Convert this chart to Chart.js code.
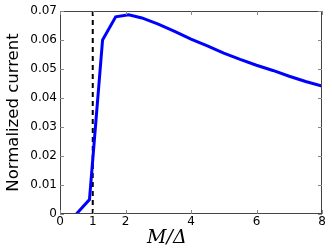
<!DOCTYPE html>
<html>
<head>
<meta charset="utf-8">
<script src="https://cdn.jsdelivr.net/npm/chart.js@4/dist/chart.umd.min.js"></script>
<style>
  html, body { margin: 0; padding: 0; background: #fff; }
  #wrap { width: 332px; height: 249px; }
</style>
</head>
<body>
<div id="wrap"><canvas id="chartCanvas"></canvas></div>
<script>
// values
const ratio = [0.5, 0.9, 1.3, 1.7, 2.1, 2.5, 3, 3.5, 4, 4.5, 5, 5.5, 6, 6.5, 7, 7.5, 8];
const current = [0, 0.005, 0.06, 0.068, 0.0687, 0.0676, 0.0655, 0.063, 0.0603, 0.058, 0.0555, 0.0533, 0.0513, 0.0495, 0.0475, 0.0457, 0.0441];
const markerX = [1, 1];
const markerY = [0, 0.07];
const xTicks = [0, 1, 2, 4, 6, 8];
const yTicks = [0, 0.01, 0.02, 0.03, 0.04, 0.05, 0.06, 0.07];

document.addEventListener('DOMContentLoaded', () => {
    const ctx = document.getElementById('chartCanvas').getContext('2d');

    // matplotlib-like frame with inward ticks
    const framePlugin = {
        id: 'frame',
        afterDraw(chart) {
            const a = chart.chartArea;
            const c = chart.ctx;
            const xs = chart.scales.x, ys = chart.scales.y;
            c.save();
            c.strokeStyle = '#444';
            c.lineWidth = 1;
            c.strokeRect(a.left + 0.5, a.top + 0.5, a.right - a.left - 1, a.bottom - a.top - 1);
            c.strokeStyle = '#888';
            c.beginPath();
            xTicks.forEach(v => {
                const px = Math.round(xs.getPixelForValue(v)) + 0.5;
                c.moveTo(px, a.bottom); c.lineTo(px, a.bottom - 4);
                c.moveTo(px, a.top); c.lineTo(px, a.top + 4);
            });
            yTicks.forEach(v => {
                const py = Math.round(ys.getPixelForValue(v)) + 0.5;
                c.moveTo(a.left, py); c.lineTo(a.left + 4, py);
                c.moveTo(a.right, py); c.lineTo(a.right - 4, py);
            });
            c.stroke();
            c.restore();
        }
    };

    new Chart(ctx, {
        type: 'line',
        data: {
            datasets: [{
                data: ratio.map((x, i) => ({ x: x, y: current[i] })),
                borderColor: '#0000ff',
                borderWidth: 3,
                fill: false,
                pointRadius: 0,
                tension: 0
            }, {
                data: markerX.map((x, i) => ({ x: x, y: markerY[i] })),
                borderColor: '#000',
                borderWidth: 2,
                borderDash: [5, 4],
                fill: false,
                pointRadius: 0
            }]
        },
        options: {
            responsive: true,
            maintainAspectRatio: false,
            animation: false,
            layout: { padding: { left: 4, right: 10, top: 11, bottom: 0 } },
            scales: {
                x: {
                    type: 'linear',
                    min: 0,
                    max: 8,
                    afterBuildTicks: s => { s.ticks = xTicks.map(v => ({ value: v })); },
                    afterFit: s => { s.height = 35; },
                    grid: { display: false, drawTicks: false },
                    border: { display: false },
                    ticks: {
                        padding: 1,
                        color: '#000',
                        font: { family: 'DejaVu Sans', size: 12 }
                    },
                    title: {
                        display: true,
                        // trailing spaces shift the label left as in the original
                        text: 'M/Δ        ',
                        color: '#000',
                        padding: { top: 0, bottom: 0 },
                        font: { family: 'DejaVu Serif', size: 19, style: 'italic' }
                    }
                },
                y: {
                    min: 0,
                    max: 0.07,
                    afterBuildTicks: s => { s.ticks = yTicks.map(v => ({ value: v })); },
                    afterFit: s => { s.width = 56; },
                    grid: { display: false, drawTicks: false },
                    border: { display: false },
                    ticks: {
                        padding: 3,
                        color: '#000',
                        font: { family: 'DejaVu Sans', size: 12 },
                        callback: v => String(Math.round(v * 100) / 100)
                    },
                    title: {
                        display: true,
                        text: 'Normalized current',
                        color: '#000',
                        padding: { top: 0, bottom: 2 },
                        font: { family: 'DejaVu Sans', size: 16.5 }
                    }
                }
            },
            plugins: {
                legend: { display: false },
                tooltip: { enabled: false }
            }
        },
        plugins: [framePlugin]
    });
});
</script>
</body>
</html>
